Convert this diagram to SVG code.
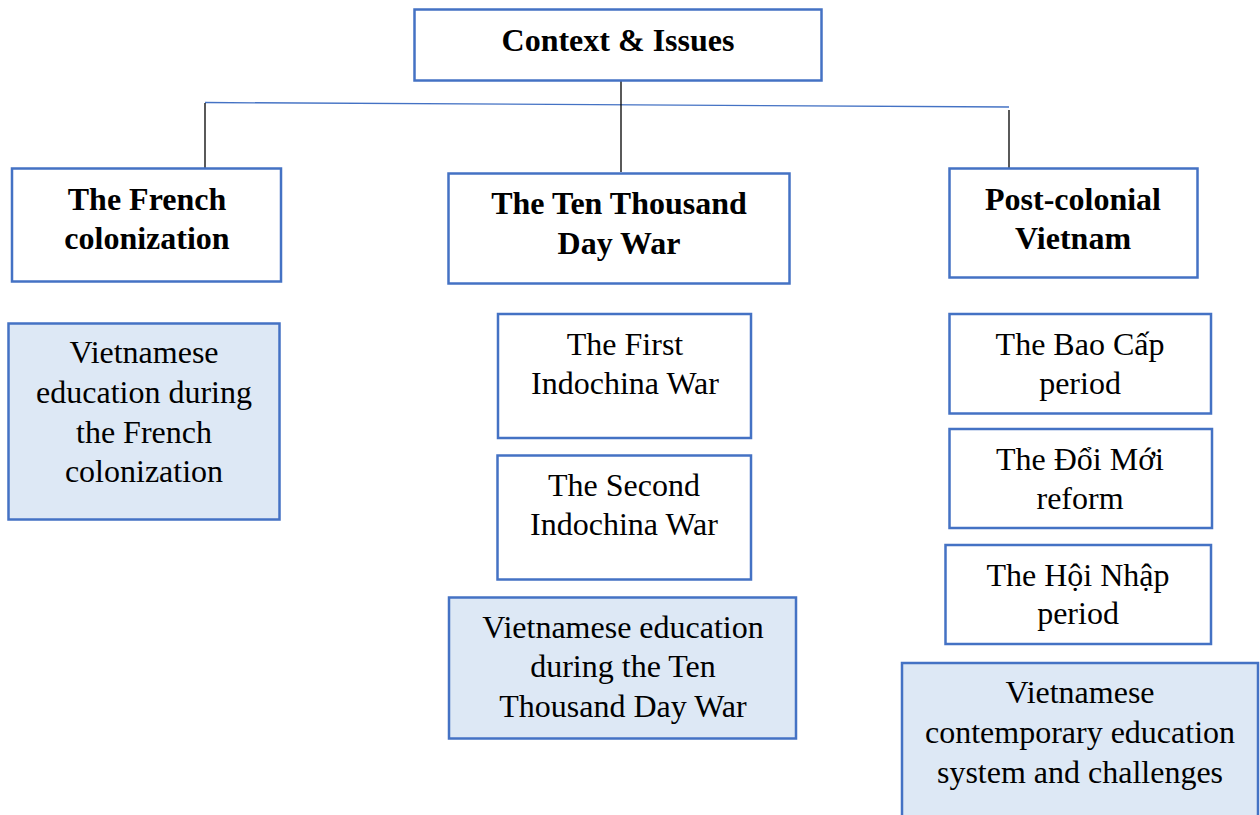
<svg xmlns="http://www.w3.org/2000/svg" width="1260" height="815" viewBox="0 0 1260 815">
<style>
.box{fill:#ffffff;stroke:#4472c4;stroke-width:2.5}
.blue{fill:#dde8f5;stroke:#4472c4;stroke-width:2.5}
.t{font-family:"Liberation Serif","Times New Roman",serif;font-size:32px;fill:#000;text-anchor:middle}
.b{font-weight:bold}
.k{stroke:#000;stroke-width:1.3;fill:none}
.h{stroke:#4472c4;stroke-width:1.3;fill:none}
</style>
<rect width="1260" height="815" fill="#fff"/>
<g id="connectors">
<line class="h" x1="205" y1="102.5" x2="1009" y2="107"/>
<line class="k" x1="621" y1="80" x2="621" y2="172"/>
<line class="k" x1="205" y1="103" x2="205" y2="168"/>
<line class="k" x1="1009" y1="110" x2="1009" y2="168"/>
</g>
<g id="root">
<rect class="box" x="414.5" y="9.5" width="407" height="71"/>
<text class="t b" x="618" y="51">Context &amp; Issues</text>
</g>
<g id="french">
<rect class="box" x="12" y="168.5" width="269" height="113"/>
<text class="t b" x="147" y="210">The French</text>
<text class="t b" x="147" y="249">colonization</text>
</g>
<g id="tenthousand">
<rect class="box" x="448.5" y="173.5" width="341" height="110"/>
<text class="t b" x="619" y="214">The Ten Thousand</text>
<text class="t b" x="619" y="254">Day War</text>
</g>
<g id="postcolonial">
<rect class="box" x="949.5" y="168.5" width="248" height="109"/>
<text class="t b" x="1073" y="210">Post-colonial</text>
<text class="t b" x="1073" y="249">Vietnam</text>
</g>
<g id="edu-french">
<rect class="blue" x="8.5" y="323.5" width="271" height="196"/>
<text class="t" x="144" y="363">Vietnamese</text>
<text class="t" x="144" y="403">education during</text>
<text class="t" x="144" y="443">the French</text>
<text class="t" x="144" y="482">colonization</text>
</g>
<g id="first-indochina">
<rect class="box" x="498" y="314" width="253" height="124"/>
<text class="t" x="625" y="355">The First</text>
<text class="t" x="625" y="394">Indochina War</text>
</g>
<g id="second-indochina">
<rect class="box" x="497.5" y="455.5" width="253.5" height="124"/>
<text class="t" x="624" y="496">The Second</text>
<text class="t" x="624" y="535">Indochina War</text>
</g>
<g id="edu-war">
<rect class="blue" x="449" y="597.5" width="347" height="141"/>
<text class="t" x="623" y="638">Vietnamese education</text>
<text class="t" x="623" y="677">during the Ten</text>
<text class="t" x="623" y="717">Thousand Day War</text>
</g>
<g id="bao-cap">
<rect class="box" x="949.5" y="314" width="261.5" height="99.5"/>
<text class="t" x="1080" y="355">The Bao Cấp</text>
<text class="t" x="1080" y="394">period</text>
</g>
<g id="doi-moi">
<rect class="box" x="949.5" y="429" width="262.5" height="99"/>
<text class="t" x="1080" y="470">The Đổi Mới</text>
<text class="t" x="1080" y="509">reform</text>
</g>
<g id="hoi-nhap">
<rect class="box" x="945.5" y="545" width="265.5" height="99"/>
<text class="t" x="1078" y="586">The Hội Nhập</text>
<text class="t" x="1078" y="624">period</text>
</g>
<g id="edu-contemporary">
<rect class="blue" x="902" y="663" width="356" height="160"/>
<text class="t" x="1080" y="703">Vietnamese</text>
<text class="t" x="1080" y="743">contemporary education</text>
<text class="t" x="1080" y="783">system and challenges</text>
</g>
</svg>
